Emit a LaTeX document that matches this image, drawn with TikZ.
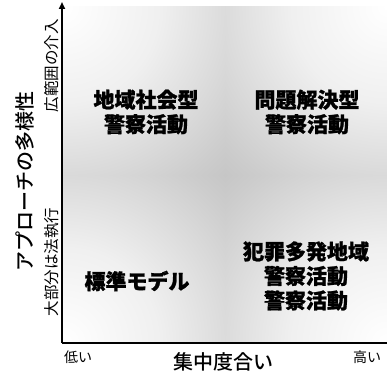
\documentclass[tikz,border=0pt]{standalone}
\usepackage{fontspec}
\newfontfamily\jp{Noto Sans CJK JP}
\newfontfamily\jpm{Noto Sans CJK JP Medium}
\newfontfamily\jpb[FakeBold=1.2]{Noto Sans CJK JP Black}
\usetikzlibrary{arrows.meta}
\definecolor{midgray}{gray}{0.6}
\pgfdeclareradialshading{cornerglow}{\pgfpoint{0bp}{0bp}}{%
  color(0bp)=(white); color(5bp)=(black!6); color(11bp)=(black!20);
  color(17bp)=(black!32); color(24bp)=(black!40); color(50bp)=(black!40)}
\tikzset{
  quad/.style={font=\jpb\fontsize{21}{24.5}\selectfont, align=center, inner sep=0pt},
  axlab/.style={font=\jpm\fontsize{20}{22}\selectfont, inner sep=0pt},
  endlab/.style={font=\jp\fontsize{15.5}{17}\selectfont, inner sep=0pt},
  ticklab/.style={font=\jp\fontsize{14}{16}\selectfont, inner sep=0pt},
  axis/.style={line width=2.4pt, -{Triangle[length=7pt,width=6pt]}},
  glow/.style={shading=cornerglow}
}
\begin{document}
\begin{tikzpicture}[x=1pt,y=-1pt]
\useasboundingbox (0,0) rectangle (387,374);
\fill[white] (0,0) rectangle (387,374);
\fill[midgray] (63,7) rectangle (387,343);
\begin{scope}
\clip (63,7) rectangle (225,175);
\shade[glow] (63,7) circle (480);
\end{scope}
\begin{scope}
\clip (225,7) rectangle (387,175);
\shade[glow] (387,7) circle (480);
\end{scope}
\begin{scope}
\clip (63,175) rectangle (225,343);
\shade[glow] (63,343) circle (480);
\end{scope}
\begin{scope}
\clip (225,175) rectangle (387,343);
\shade[glow] (387,343) circle (480);
\end{scope}
\coordinate (O) at (62,343);
\coordinate (Ytop) at (62,2);
\coordinate (Xend) at (390,343);
\draw[axis] (O) -- (Ytop);
\draw[line width=2.4pt] (O) -- (Xend);
\node[quad] (q1) at (146,112) {地域社会型\\警察活動};
\node[quad] (q2) at (307,112) {問題解決型\\警察活動};
\node[quad] (q3) at (137,281) {標準モデル};
\node[quad] (q4) at (306,276) {犯罪多発地域\\警察活動\\警察活動};
\node[axlab, rotate=90] (yl) at (25,181) {アプローチの多様性};
\node[endlab, rotate=90] (yhi) at (52,66) {広範囲の介入};
\node[endlab, rotate=90] (ylo) at (52,262) {大部分は法執行};
\node[axlab] (xl) at (223,362) {集中度合い};
\node[ticklab] (xlo) at (78,357) {低い};
\node[ticklab] (xhi) at (367,357) {高い};
\end{tikzpicture}
\end{document}
